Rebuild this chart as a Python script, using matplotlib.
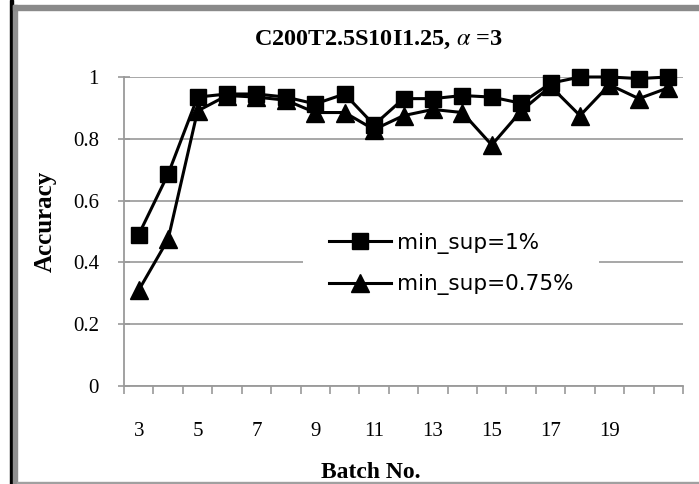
import matplotlib
matplotlib.use('Agg')
import matplotlib.pyplot as plt
from matplotlib.patches import Rectangle
from matplotlib.ticker import FixedLocator, NullFormatter

# data
batches = [3, 4, 5, 6, 7, 8, 9, 10, 11, 12, 13, 14, 15, 16, 17, 18, 19, 20, 21]
acc_1 = [0.49, 0.686, 0.935, 0.945, 0.945, 0.935, 0.913, 0.945, 0.845, 0.93,
         0.93, 0.94, 0.935, 0.915, 0.98, 1.0, 1.0, 0.995, 1.0]
acc_075 = [0.31, 0.475, 0.89, 0.94, 0.935, 0.925, 0.885, 0.885, 0.83, 0.875,
           0.895, 0.885, 0.78, 0.89, 0.97, 0.875, 0.975, 0.93, 0.965]
labels = ['min_sup=1%', 'min_sup=0.75%']
xtick_vals = [3, 5, 7, 9, 11, 13, 15, 17, 19]
ytick_vals = [0, 0.2, 0.4, 0.6, 0.8, 1]

plt.rcParams['mathtext.fontset'] = 'stix'
serif = 'Liberation Serif'
W, H = 699, 484

fig = plt.figure(figsize=(W / 100, H / 100), dpi=100)
ax = fig.add_axes([124 / W, 1 - 386 / H, (683 - 124) / W, (386 - 77) / H])

ax.plot(batches, acc_1, color='black', lw=2.2, marker='s', ms=12,
        label=labels[0], clip_on=False, zorder=4)
ax.plot(batches, acc_075, color='black', lw=2.2, marker='^', ms=13,
        label=labels[1], clip_on=False, zorder=4)

ax.set_xlim(2.5, 21.5)
ax.set_ylim(0, 1)
ax.set_xticks(xtick_vals)
ax.set_xticklabels([str(v) for v in xtick_vals], fontfamily=serif, fontsize=15)
ax.xaxis.set_minor_locator(FixedLocator([b - 0.5 for b in batches] + [21.5]))
ax.xaxis.set_minor_formatter(NullFormatter())
ax.tick_params(axis='x', which='major', length=0, pad=26)
ax.tick_params(axis='x', which='minor', length=6, color='#9a9a9a', width=1.2)
ax.set_yticks(ytick_vals)
ax.set_yticklabels(['0', '0.2', '0.4', '0.6', '0.8', '1'], fontfamily=serif, fontsize=15)
ax.tick_params(axis='y', direction='inout', length=8, color='#9a9a9a', width=1.2, pad=14)

ax.grid(axis='y', color='#a0a0a0', lw=1.3)
ax.set_axisbelow(True)
for s in ['top', 'right']:
    ax.spines[s].set_visible(False)
for s in ['left', 'bottom']:
    ax.spines[s].set_color('#9a9a9a')
    ax.spines[s].set_linewidth(1.3)

fig.text(45 / W, 1 - 221 / H, 'Accuracy', fontfamily=serif, fontsize=18,
         fontweight='bold', ha='center', va='center', rotation=90)
fig.text(371 / W, 1 - 472 / H, 'Batch No.', fontfamily=serif, fontsize=17,
         fontweight='bold', ha='center', va='center')
fig.text(378 / W, 1 - 40 / H, 'C200T2.5S10I1.25, $\\alpha$ =3', fontfamily=serif,
         fontsize=17.5, fontweight='bold', ha='center', va='center')

leg = ax.legend(loc='center', bbox_to_anchor=(451 / W, 1 - 264 / H),
                bbox_transform=fig.transFigure, frameon=True, facecolor='white',
                edgecolor='none', framealpha=1, fancybox=False,
                prop={'family': 'DejaVu Sans', 'size': 15.5}, handlelength=2.9,
                handletextpad=0.25, labelspacing=0.95, borderpad=1.2,
                borderaxespad=0)

# window-like border of the original screenshot
fig.patches.append(Rectangle((10 / W, 0), 3 / W, 1, transform=fig.transFigure,
                             color='black', zorder=10))
fig.patches.append(Rectangle((13 / W, 0), 4 / W, 1 - 5 / H, transform=fig.transFigure,
                             color='#909090', zorder=10))
fig.patches.append(Rectangle((13 / W, 1 - 10 / H), 1 - 13 / W, 5 / H,
                             transform=fig.transFigure, color='#8a8a8a', zorder=10))
fig.patches.append(Rectangle((17 / W, 0), 1 - 17 / W, 2 / H,
                             transform=fig.transFigure, color='#a0a0a0', zorder=10))

fig.savefig('out.png', dpi=100)
